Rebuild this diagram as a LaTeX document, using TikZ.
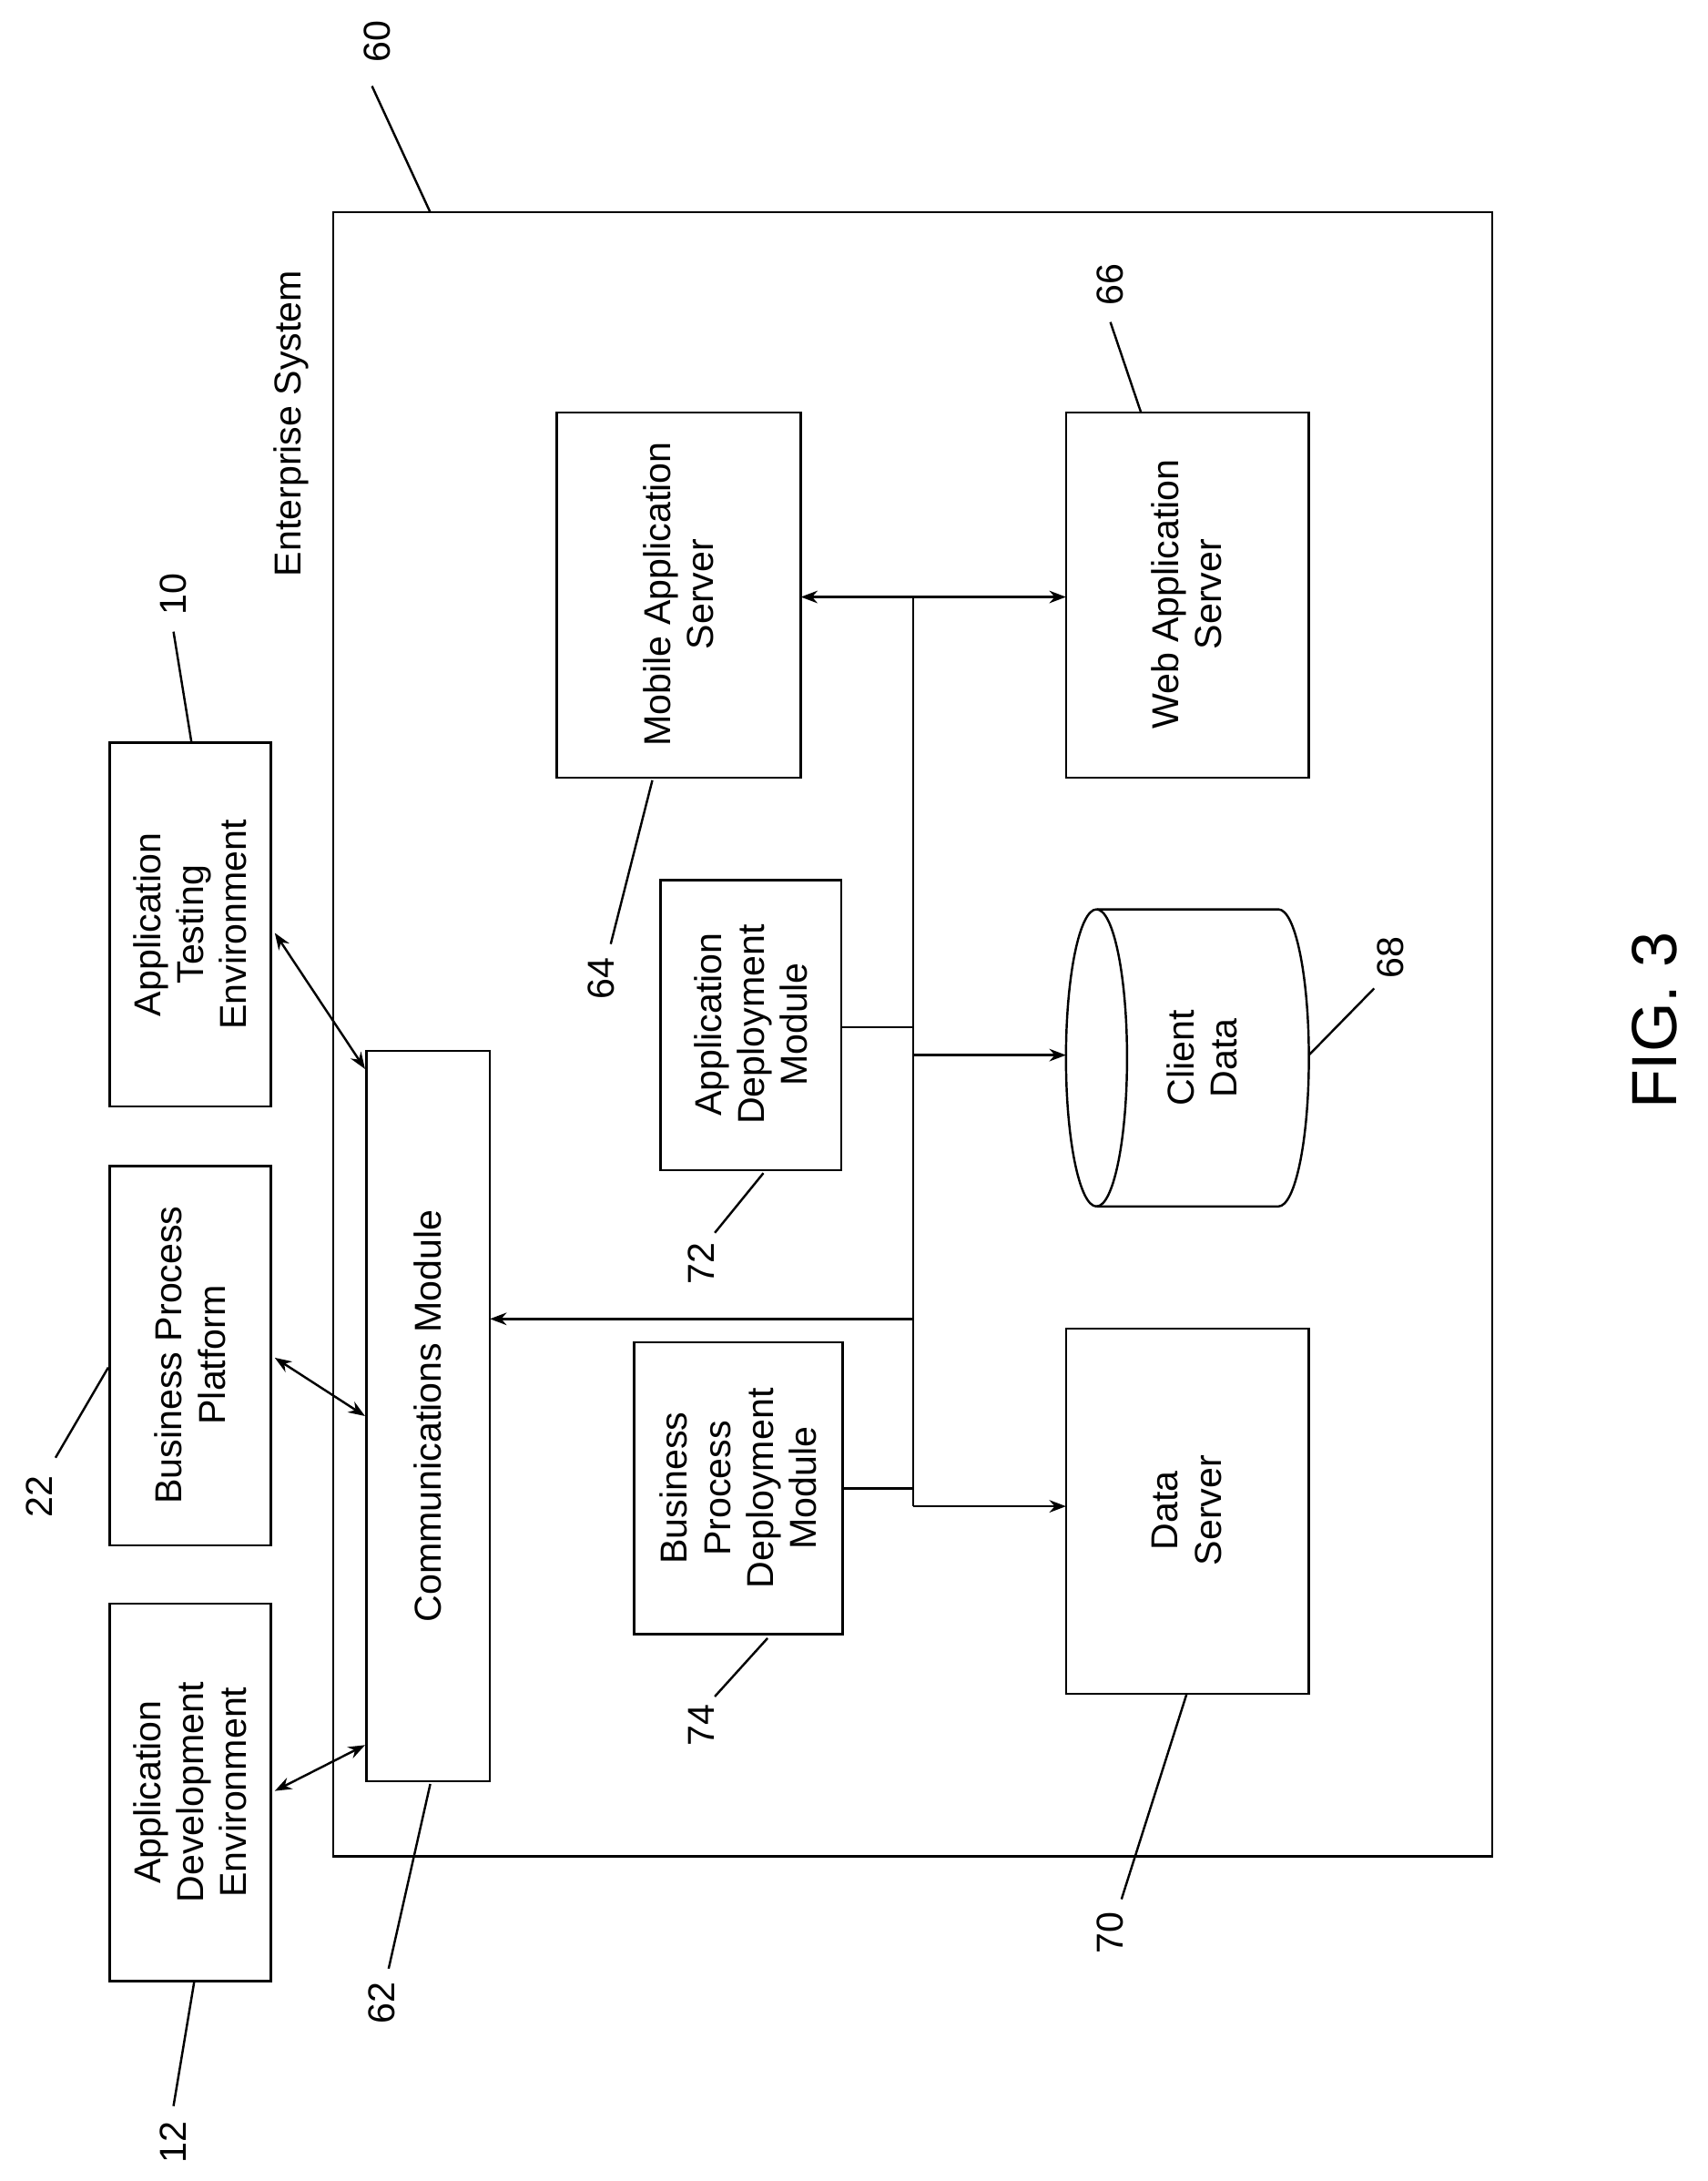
\documentclass[tikz,border=0pt]{standalone}
\usepackage{fontspec}
\setmainfont{Liberation Sans}
\usetikzlibrary{arrows.meta}
\begin{document}
\begin{tikzpicture}[x=1pt,y=-1pt,
  box/.style={draw,line width=1.6pt},
  txt/.style={rotate=90,align=center,font=\fontsize{27}{31}\selectfont},
  num/.style={rotate=90,font=\fontsize{27}{31}\selectfont},
  ln/.style={line width=1.6pt},
  arr/.style={line width=1.6pt,-{Stealth[length=12pt,width=9pt]}},
  darr/.style={line width=1.6pt,{Stealth[length=12pt,width=9pt]}-{Stealth[length=12pt,width=9pt]}}]
\useasboundingbox (0,0) rectangle (1230,1571);
% enterprise
\draw[box] (240,153) rectangle (1075,1337);
\node[txt] (es) at (210,305) {Enterprise System};
\node[num] (n60) at (272,30) {60};
\draw[ln] (310,153) -- (268,62);
% mobile
\draw[box] (401,297) rectangle (577,560);
\node[txt] (mas) at (489,428) {Mobile Application\\Server};
\node[num] (n64) at (433,705) {64};
\draw[ln] (470,562) -- (440,680);
% web
\draw[box] (768,297) rectangle (943,560);
\node[txt] (was) at (855,428) {Web Application\\Server};
\node[num] (n66) at (800,205) {66};
\draw[ln] (822,297) -- (800,232);
% client data
\draw[box] (790,655) arc[start angle=90,end angle=270,x radius=22,y radius=-107];
\draw[box] (790,655) arc[start angle=90,end angle=-90,x radius=22,y radius=-107];
\draw[box] (790,655) -- (921,655) arc[start angle=90,end angle=-90,x radius=22,y radius=-107] -- (790,869);
\node[txt] (cd) at (866,762) {Client\\Data};
\node[num] (n68) at (1002,690) {68};
\draw[ln] (943,760) -- (990,712);
% data server
\draw[box] (768,957) rectangle (943,1220);
\node[txt] (ds) at (855,1088) {Data\\Server};
\node[num] (n70) at (800,1392) {70};
\draw[ln] (855,1220) -- (808,1368);
% ADM
\draw[box] (476,634) rectangle (606,843);
\node[txt] (adm) at (541,738) {Application\\Deployment\\Module};
\node[num] (n72) at (505,910) {72};
\draw[ln] (550,845) -- (515,888);
% BPDM
\draw[box] (457,967) rectangle (607,1177);
\node[txt] (bpdm) at (532,1072) {Business\\Process\\Deployment\\Module};
\node[num] (n74) at (505,1243) {74};
\draw[ln] (553,1180) -- (515,1222);
% comms
\draw[box] (264,757) rectangle (353,1283);
\node[txt] (cm) at (308,1020) {Communications Module};
\node[num] (n62) at (275,1443) {62};
\draw[ln] (310,1285) -- (280,1418);
% externals
\draw[box] (79,535) rectangle (195,797);
\node[txt] (ate) at (137,666) {Application\\Testing\\Environment};
\node[num] (n10) at (125,428) {10};
\draw[ln] (138,535) -- (125,455);
\draw[box] (79,840) rectangle (195,1113);
\node[txt] (bpp) at (137,976) {Business Process\\Platform};
\node[num] (n22) at (28,1078) {22};
\draw[ln] (78,985) -- (40,1050);
\draw[box] (79,1155) rectangle (195,1427);
\node[txt] (ade) at (137,1291) {Application\\Development\\Environment};
\node[num] (n12) at (125,1543) {12};
\draw[ln] (140,1427) -- (125,1517);
% bus
\coordinate (b1) at (658,430);
\coordinate (b2) at (658,1085);
\draw[ln] (b1) -- (b2);
\draw[arr] (b1) -- (577,430);
\draw[arr] (b1) -- (768,430);
\draw[ln] (606,740) -- (658,740);
\draw[arr] (658,760) -- (768,760);
\draw[arr] (658,950) -- (353,950);
\draw[ln] (607,1072) -- (658,1072);
\draw[arr] (b2) -- (768,1085);
\draw[darr] (198,672) -- (263,770);
\draw[darr] (198,978) -- (263,1020);
\draw[darr] (198,1290) -- (263,1257);
\node[rotate=90,font=\fontsize{46}{50}\selectfont] (fig) at (1192,735) {FIG. 3};
\end{tikzpicture}
\end{document}
